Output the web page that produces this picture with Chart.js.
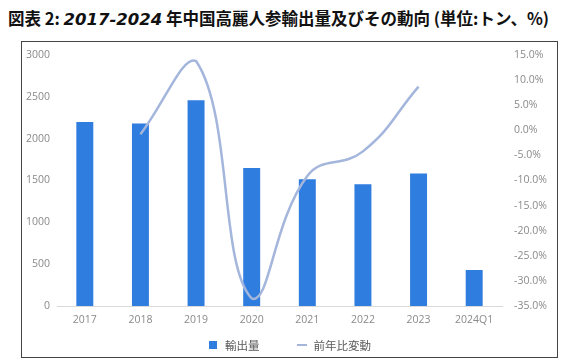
<!DOCTYPE html>
<html>
<head>
<meta charset="utf-8">
<script src="https://cdn.jsdelivr.net/npm/chart.js@4/dist/chart.umd.min.js"></script>
<style>
  body { margin: 0; background: #fff; width: 570px; height: 363px; position: relative; overflow: hidden; }
  #titulo {
    position: absolute; left: 8px; top: 6px; white-space: nowrap;
    font-family: "Noto Sans CJK JP", sans-serif; font-weight: bold; font-size: 16.5px; color: #111;
  }
  #titulo i { font-family: "DejaVu Sans", sans-serif; font-style: italic; }
  #caixa {
    position: absolute; left: 21px; top: 41px; width: 535px; height: 315px;
    border: 1.5px solid #444;
  }
  #legenda {
    position: absolute; left: 209px; top: 337px; display: flex; align-items: center;
    font-family: "Noto Sans CJK JP", sans-serif; font-size: 11.5px; color: #595959; line-height: 16px;
  }
  #legenda .quad { width: 8px; height: 8px; background: #2f7ddf; margin-right: 8px; }
  #legenda .traco { width: 10px; height: 2.5px; background: #a4b6dc; margin-left: 37px; margin-right: 7px; }
</style>
</head>
<body>
<div id="titulo">図表 2: <i>2017-2024</i> 年中国高麗人参輸出量及びその動向 (単位:トン、%)</div>
<div id="caixa"><canvas id="grafico" width="535" height="315"></canvas></div>
<div id="legenda"></div>
<script>
// dados
const anos = ['2017', '2018', '2019', '2020', '2021', '2022', '2023', '2024Q1'];
const exportacao = [2200, 2180, 2460, 1650, 1515, 1455, 1583, 430];
const variacao = [null, -0.8, 13.8, -33.5, -9.1, -4.2, 8.7, null];
const ticksEsq = [0, 500, 1000, 1500, 2000, 2500, 3000];
const ticksDir = [-35, -30, -25, -20, -15, -10, -5, 0, 5, 10, 15];

const cinza = '#8a8a8a';
const fonte = { family: "'Open Sans', 'Noto Sans CJK JP', sans-serif", size: 10.5 };

const ctx = document.getElementById('grafico').getContext('2d');

// largura fixa e sem folga extra em cima/baixo nos eixos verticais
const fixarEixo = largura => s => {
  s.width = largura;
  s.paddingTop = 0;
  s.paddingBottom = 0;
};

const grafico = new Chart(ctx, {
  type: 'bar',
  data: {
    labels: anos,
    datasets: [
      {
        type: 'bar',
        label: '輸出量',
        data: exportacao,
        backgroundColor: '#2f7ddf',
        barPercentage: 0.61,
        categoryPercentage: 0.5,
        yAxisID: 'y',
        order: 1
      },
      {
        type: 'line',
        label: '前年比変動',
        data: variacao,
        borderColor: '#a4b6dc',
        backgroundColor: '#a4b6dc',
        borderWidth: 2.5,
        pointRadius: 0,
        tension: 0.45,
        yAxisID: 'y2',
        order: 0
      }
    ]
  },
  options: {
    responsive: false,
    animation: false,
    layout: { padding: { top: 13, bottom: 26, left: 0, right: 0 } },
    scales: {
      x: {
        afterFit: s => { s.height = 25; },
        grid: { display: false, drawTicks: false },
        border: { color: '#d9d9d9' },
        ticks: { color: cinza, font: fonte, padding: 8 }
      },
      y: {
        min: 0, max: 3000,
        afterBuildTicks: s => { s.ticks = ticksEsq.map(v => ({ value: v })); },
        afterFit: fixarEixo(35),
        grid: { display: false, drawTicks: false },
        border: { display: false },
        ticks: { color: cinza, font: fonte, padding: 7, callback: v => String(v) }
      },
      y2: {
        position: 'right',
        min: -35, max: 15,
        afterBuildTicks: s => { s.ticks = ticksDir.map(v => ({ value: v })); },
        afterFit: fixarEixo(55),
        grid: { display: false, drawTicks: false },
        border: { display: false },
        ticks: { color: cinza, font: fonte, padding: 12, callback: v => v.toFixed(1) + '%' }
      }
    },
    plugins: {
      legend: { display: false },
      tooltip: { enabled: false }
    }
  }
});

// legenda em html, com os mesmos nomes e cores dos datasets
const legenda = document.getElementById('legenda');
grafico.data.datasets.forEach((ds, i) => {
  const simbolo = document.createElement('span');
  simbolo.className = ds.type === 'line' ? 'traco' : 'quad';
  const texto = document.createElement('span');
  texto.textContent = ds.label;
  legenda.appendChild(simbolo);
  legenda.appendChild(texto);
});
</script>
</body>
</html>
